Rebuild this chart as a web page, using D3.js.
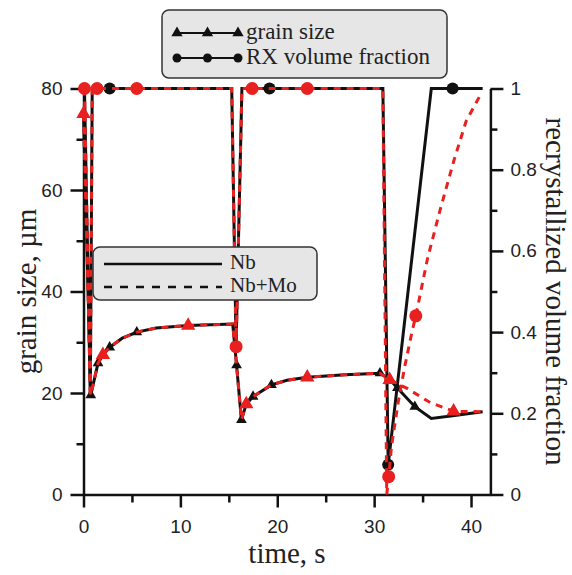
<!DOCTYPE html>
<html>
<head>
<meta charset="utf-8">
<script src="https://cdn.jsdelivr.net/npm/d3@7"></script>
<style>
  body { margin: 0; background: #fff; }
</style>
</head>
<body>
<svg id="chart" width="572" height="575"></svg>
<script>
// grain size (um) against time (s), [t, value]
const grainNb = [[0, 75], [0.75, 19.6], [1.5, 25.9], [2.0, 27.5], [2.7, 29.0], [4, 30.8], [5.5, 32.0], [7.5, 32.8], [10.8, 33.3], [15.4, 33.6], [15.8, 25.5], [16.3, 14.7], [16.8, 17.8], [17.5, 19.3], [19.4, 21.6], [21, 22.5], [23.1, 23.1], [27, 23.6], [30.6, 23.9], [31.6, 22.7], [32.4, 21.0], [34.2, 17.3], [35.9, 15.0], [38.1, 15.5], [41.2, 16.3]];
const grainNbMo = [[0, 75], [0.75, 19.6], [1.5, 25.9], [2.0, 27.5], [2.7, 29.0], [4, 30.8], [5.5, 32.0], [7.5, 32.8], [10.8, 33.3], [15.4, 33.6], [15.8, 25.5], [16.3, 14.7], [16.8, 17.8], [17.5, 19.3], [19.4, 21.6], [21, 22.5], [23.1, 23.1], [27, 23.6], [30.6, 23.9], [31.6, 22.6], [33.4, 20.9], [35.8, 18.1], [38.2, 16.4], [41.2, 16.3]];
const grainNbMarks = [[0.75, 19.6], [1.5, 25.9], [2.7, 29.0], [5.5, 32.0], [15.8, 25.5], [16.3, 14.7], [17.5, 19.3], [19.4, 21.6], [30.6, 23.9], [32.4, 21.0], [34.2, 17.3]];
const grainNbMoMarks = [[0, 75], [2.0, 27.5], [10.8, 33.3], [16.8, 17.8], [23.1, 23.1], [31.6, 22.6], [38.2, 16.4]];

// recrystallized volume fraction against time (s)
const rxNb = [[0.1, 1], [0.7, 0.24], [0.9, 1], [15.3, 1], [15.75, 0.364], [16.35, 1], [30.9, 1], [31.45, 0.073], [35.9, 1], [41.2, 1]];
const rxNbMo = [[0.1, 1], [0.7, 0.24], [0.9, 1], [15.3, 1], [15.75, 0.364], [16.35, 1], [30.9, 1], [31.3, 0], [31.5, 0.044], [31.8, 0.12], [32.5, 0.23], [33.2, 0.32], [33.9, 0.40], [34.3, 0.44], [35.5, 0.58], [36.8, 0.70], [38.2, 0.82], [39.5, 0.92], [41.1, 0.99]];
const rxNbMarks = [[2.7, 1], [15.75, 0.364], [19.2, 1], [31.45, 0.073], [38.1, 1]];
const rxNbMoMarks = [[0.1, 1], [1.4, 1], [5.5, 1], [15.75, 0.364], [17.4, 1], [23.1, 1], [31.5, 0.044], [34.3, 0.44]];

const xMajor = [0, 10, 20, 30, 40];
const xMinor = [5, 15, 25, 35];
const yMajor = [0, 20, 40, 60, 80];
const yMinor = [10, 30, 50, 70];
const rMajor = [0, 0.2, 0.4, 0.6, 0.8, 1];
const rMinor = [0.1, 0.3, 0.5, 0.7, 0.9];

const RED = "#e8201f", BLACK = "#111";
const SERIF = "'Liberation Serif', 'Times New Roman', serif";
const SANS = "'Liberation Sans', Arial, sans-serif";

const svg = d3.select("#chart");

const x = d3.scaleLinear().domain([0, 42]).range([83.5, 490.4]);
const y = d3.scaleLinear().domain([0, 80]).range([494.5, 88.5]);
const yr = d3.scaleLinear().domain([0, 1]).range([494.5, 88.5]);

// axes
function styleAxis(g) {
  g.selectAll("path, line").attr("stroke", BLACK).attr("stroke-width", 2.5);
  g.selectAll("text").attr("fill", "#222").style("font", `19px ${SANS}`);
}

const bottom = svg.append("g").attr("transform", `translate(0,${y(0)})`);
bottom.call(d3.axisBottom(x).tickValues(xMajor).tickSize(13).tickSizeOuter(0).tickPadding(12)).call(styleAxis);
bottom.append("g").call(d3.axisBottom(x).tickValues(xMinor).tickSize(8).tickFormat("")).call(styleAxis)
  .select(".domain").remove();

const left = svg.append("g").attr("transform", `translate(${x(0)},0)`);
left.call(d3.axisLeft(y).tickValues(yMajor).tickSize(13).tickSizeOuter(0).tickPadding(8)).call(styleAxis);
left.append("g").call(d3.axisLeft(y).tickValues(yMinor).tickSize(7).tickFormat("")).call(styleAxis)
  .select(".domain").remove();

const right = svg.append("g").attr("transform", `translate(${x(42)},0)`);
right.call(d3.axisRight(yr).tickValues(rMajor).tickSize(13).tickSizeOuter(0).tickPadding(7).tickFormat(d => String(d))).call(styleAxis);
right.append("g").call(d3.axisRight(yr).tickValues(rMinor).tickSize(7).tickFormat("")).call(styleAxis)
  .select(".domain").remove();

// axis titles
svg.append("text").attr("x", 287).attr("y", 563).attr("text-anchor", "middle")
  .style("font", `29px ${SERIF}`).attr("fill", "#222").text("time, s");
svg.append("text").attr("transform", `translate(36,${y(40)}) rotate(-90)`).attr("text-anchor", "middle")
  .style("font", `29px ${SERIF}`).attr("fill", "#222").text("grain size, µm");
svg.append("text").attr("transform", `translate(546,${y(40)}) rotate(90)`).attr("text-anchor", "middle")
  .style("font", `29px ${SERIF}`).attr("fill", "#222").text("recrystallized volume fraction");

// curves
const lineG = d3.line().x(d => x(d[0])).y(d => y(d[1]));
const lineR = d3.line().x(d => x(d[0])).y(d => yr(d[1]));
const tri = (size) => d3.symbol(d3.symbolTriangle, size)();

const plot = svg.append("g");

function curve(data, line, color, dashed) {
  plot.append("path").datum(data).attr("d", line)
    .attr("fill", "none").attr("stroke", color).attr("stroke-width", 3)
    .attr("stroke-dasharray", dashed ? "7,6" : null);
}
function triangles(data, color, size) {
  plot.append("g").selectAll("path").data(data).join("path")
    .attr("transform", d => `translate(${x(d[0])},${y(d[1])})`)
    .attr("d", tri(size)).attr("fill", color);
}
function circles(data, color, r) {
  plot.append("g").selectAll("circle").data(data).join("circle")
    .attr("cx", d => x(d[0])).attr("cy", d => yr(d[1])).attr("r", r).attr("fill", color);
}

curve(grainNb, lineG, BLACK, false);
curve(rxNb, lineR, BLACK, false);
triangles(grainNbMarks, BLACK, 50);
circles(rxNbMarks, BLACK, 6);
curve(grainNbMo, lineG, RED, true);
curve(rxNbMo, lineR, RED, true);
triangles(grainNbMoMarks, RED, 90);
circles(rxNbMoMarks, RED, 6.5);

// legend: quantities
const leg1 = svg.append("g");
leg1.append("rect").attr("x", 162).attr("y", 10).attr("width", 285).attr("height", 68).attr("rx", 7)
  .attr("fill", "#e6e6e6").attr("stroke", "#333").attr("stroke-width", 1.5);
const legRows = [
  { label: "grain size", yy: 33, mark: "tri" },
  { label: "RX volume fraction", yy: 58, mark: "circ" }
];
legRows.forEach(r => {
  leg1.append("line").attr("x1", 177).attr("x2", 238).attr("y1", r.yy).attr("y2", r.yy)
    .attr("stroke", BLACK).attr("stroke-width", 2);
  [177, 207.5, 238].forEach(px => {
    if (r.mark === "tri") {
      leg1.append("path").attr("d", tri(55)).attr("transform", `translate(${px},${r.yy})`).attr("fill", BLACK);
    } else {
      leg1.append("circle").attr("cx", px).attr("cy", r.yy).attr("r", 4.5).attr("fill", BLACK);
    }
  });
  leg1.append("text").attr("x", 246).attr("y", r.yy + 6).style("font", `23px ${SERIF}`).attr("fill", "#222").text(r.label);
});

// legend: alloys
const leg2 = svg.append("g");
leg2.append("rect").attr("x", 93).attr("y", 247).attr("width", 224).attr("height", 53).attr("rx", 7)
  .attr("fill", "#e6e6e6").attr("stroke", "#333").attr("stroke-width", 1.5);
[{ label: "Nb", yy: 264, dash: null }, { label: "Nb+Mo", yy: 287, dash: "8,8" }].forEach(r => {
  leg2.append("line").attr("x1", 104).attr("x2", 222).attr("y1", r.yy).attr("y2", r.yy)
    .attr("stroke", BLACK).attr("stroke-width", 2.5).attr("stroke-dasharray", r.dash);
  leg2.append("text").attr("x", 230).attr("y", r.yy + 5).style("font", `21px ${SERIF}`).attr("fill", "#222").text(r.label);
});
</script>
</body>
</html>
